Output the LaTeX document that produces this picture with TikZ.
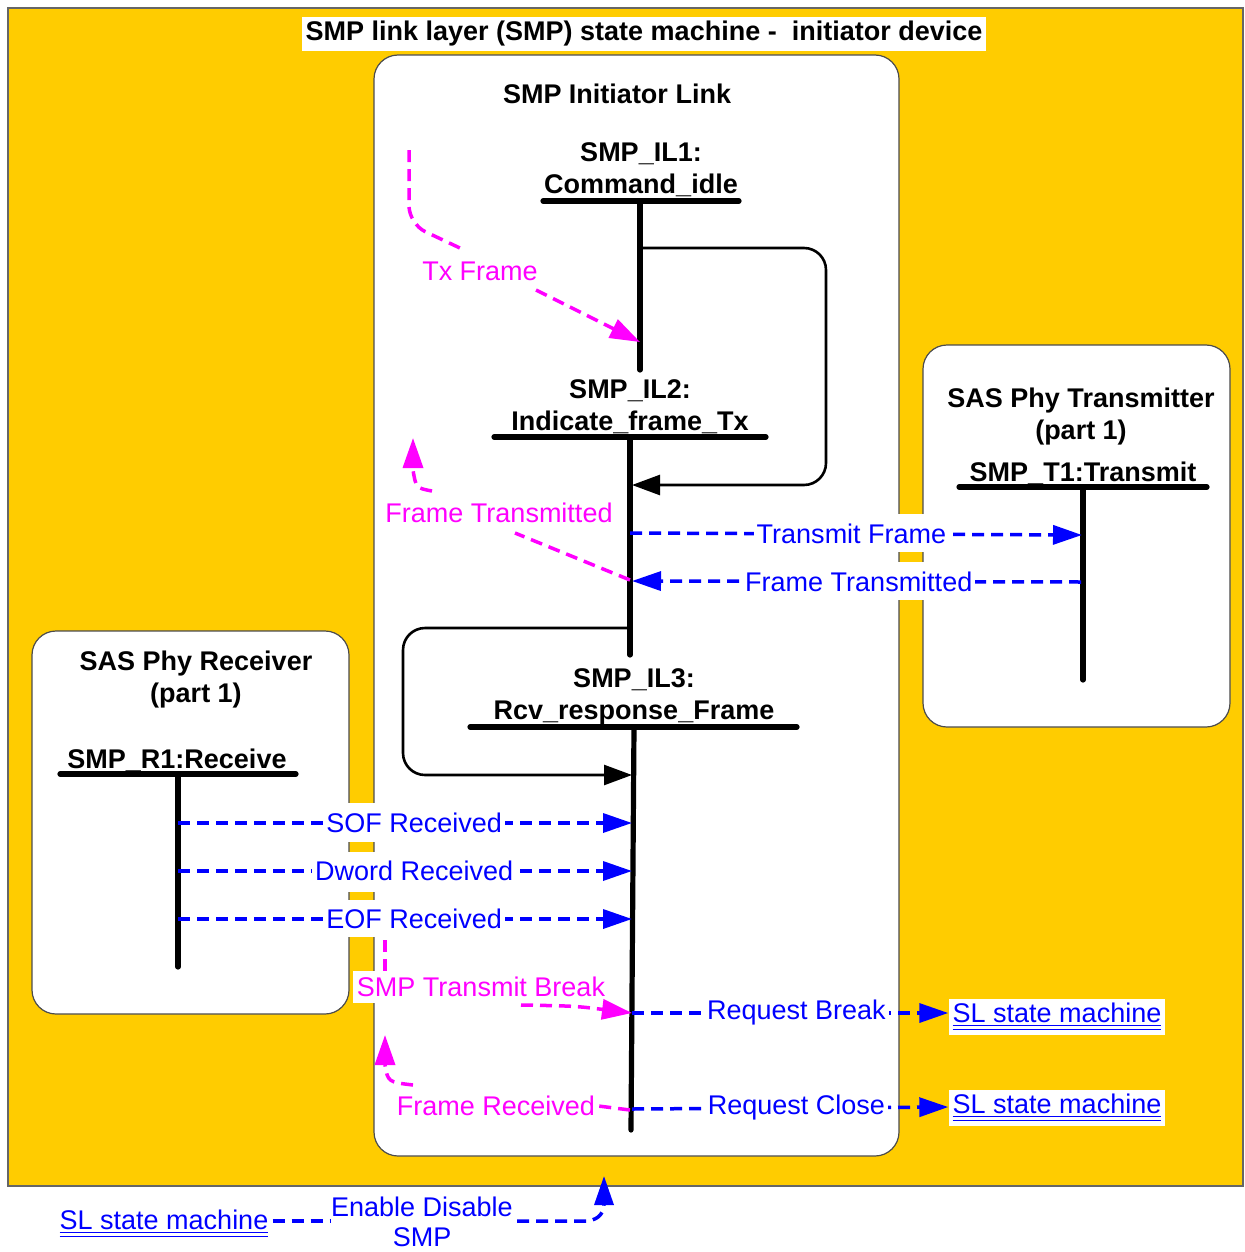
\documentclass[tikz,border=0pt]{standalone}
\usepackage{fontspec}
\setmainfont{Liberation Sans}
\usetikzlibrary{arrows.meta}
\definecolor{bgyellow}{HTML}{FFCC00}
\definecolor{magc}{HTML}{FF00FF}
\definecolor{bluec}{HTML}{0000FF}
\begin{document}
\begin{tikzpicture}[x=0.5pt,y=-0.5pt,
  every node/.style={font=\fontsize{13.5}{16}\selectfont, inner sep=1pt},
  ttl/.style={font=\fontsize{13.5}{16}\selectfont\bfseries, align=center, yshift=-1pt},
  statebar/.style={line width=2.6pt, line cap=round},
  loopline/.style={line width=1.3pt, rounded corners=11pt},
  blktip/.style={-{Triangle[length=14pt,width=10pt]}},
  sig/.style={draw=bluec, line width=1.75pt, dash pattern=on 6pt off 3.5pt},
  bluetip/.style={-{Triangle[length=14.5pt,width=9.5pt]}},
  sigtxt/.style={text=bluec, fill=white, inner sep=1.5pt},
  magsig/.style={draw=magc, line width=1.75pt, dash pattern=on 6pt off 3.5pt},
  magtip/.style={-{Triangle[length=15pt,width=10pt]}},
  magtxt/.style={text=magc, fill=white, inner sep=1.5pt},
  box/.style={draw=black!70, fill=white, rounded corners=12pt, line width=0.6pt},
  link/.style={text=bluec, fill=white, inner sep=2pt},
  band/.style={fill=white}
]
\useasboundingbox (0,0) rectangle (1244,1252);
\fill[white] (0,0) rectangle (1244,1252);
\draw[fill=bgyellow, draw=black!60, line width=0.6pt] (8,8) rectangle (1243,1186);

% title
\node[ttl, fill=white, inner sep=2pt] (title) at (644,32) {SMP link layer (SMP) state machine -\ \ initiator device};

% boxes
\draw[box] (374,55) rectangle (899,1156);
\draw[box] (923,345) rectangle (1230,727);
\draw[box] (32,631) rectangle (349,1014);

% white bands across gaps
\fill[band] (630,514) rectangle (1082,552);
\fill[band] (630,562) rectangle (1082,600);
\fill[band] (178,803) rectangle (632,842);
\fill[band] (178,852) rectangle (632,892);
\fill[band] (178,900) rectangle (632,937);

\node[ttl] (ilname) at (617,92) {SMP Initiator Link};
\node[ttl] (txname) at (1081,415) {SAS Phy Transmitter\\(part 1)};
\node[ttl] (rxname) at (196,678) {SAS Phy Receiver\\(part 1)};

% states
\node[ttl] (il1) at (641,168) {SMP\_IL1:\\Command\_idle};
\node[ttl] (il2) at (630,405) {SMP\_IL2:\\Indicate\_frame\_Tx};
\node[ttl] (il3) at (634,695) {SMP\_IL3:\\Rcv\_response\_Frame};
\node[ttl] (t1) at (1083,471) {SMP\_T1:Transmit};
\node[ttl] (r1) at (177,758) {SMP\_R1:Receive};

\coordinate (il1L) at (543,201); \coordinate (il1R) at (739,201);
\coordinate (il1T) at (640,201); \coordinate (il1B) at (640,370);
\coordinate (il2L) at (494,437); \coordinate (il2R) at (766,437);
\coordinate (il2T) at (630,437); \coordinate (il2B) at (630,655);
\coordinate (il3L) at (470,727); \coordinate (il3R) at (797,727);
\coordinate (il3T) at (634,727); \coordinate (il3B) at (631,1130);
\coordinate (t1L) at (959,487); \coordinate (t1R) at (1207,487);
\coordinate (t1T) at (1083,487); \coordinate (t1B) at (1083,680);
\coordinate (r1L) at (60,774); \coordinate (r1R) at (296,774);
\coordinate (r1T) at (178,774); \coordinate (r1B) at (178,967);

\foreach \a/\b in {il1L/il1R,il1T/il1B,il2L/il2R,il2T/il2B,il3L/il3R,il3T/il3B,t1L/t1R,t1T/t1B,r1L/r1R,r1T/r1B}
  \draw[statebar] (\a) -- (\b);

% loops
\coordinate (lp1s) at (640,248); \coordinate (lp1e) at (632,485);
\draw[loopline, blktip] (lp1s) -- (826,248) -- (826,485) -- (lp1e);
\coordinate (lp2s) at (630,628); \coordinate (lp2e) at (632,775);
\draw[loopline, blktip] (lp2s) -- (403,628) -- (403,775) -- (lp2e);

% blue signals
\coordinate (tfS) at (630,533); \coordinate (tfE) at (1082,535);
\draw[sig, bluetip] (tfS) -- (tfE) node[sigtxt, pos=0.49] (tfl) {Transmit Frame};
\coordinate (ftS) at (1081,582); \coordinate (ftE) at (632,581);
\draw[sig, bluetip] (ftS) -- (ftE) node[sigtxt, pos=0.495] (ftl) {Frame Transmitted};

\coordinate (sofS) at (178,823); \coordinate (sofE) at (632,823);
\draw[sig, bluetip] (sofS) -- (sofE) node[sigtxt, pos=0.52] (sofl) {SOF Received};
\coordinate (dwS) at (178,871); \coordinate (dwE) at (632,871);
\draw[sig, bluetip] (dwS) -- (dwE) node[sigtxt, pos=0.52] (dwl) {Dword Received};
\coordinate (eofS) at (178,919); \coordinate (eofE) at (632,919);
\draw[sig, bluetip] (eofS) -- (eofE) node[sigtxt, pos=0.52] (eofl) {EOF Received};

\node[link] (sl1) at (1057,1017) {\underline{\underline{SL state machine}}};
\node[link] (sl2) at (1057,1108) {\underline{\underline{SL state machine}}};
\coordinate (rbS) at (632,1013);
\draw[sig, bluetip] (rbS) -- (sl1.west |- 0,1013) node[sigtxt, pos=0.52] (rbl) {Request Break};
\coordinate (rcS) at (632,1109);
\draw[sig, bluetip] (rcS) -- (sl2.west |- 0,1107) node[sigtxt, pos=0.52] (rcl) {Request Close};

% bottom
\node[link] (sl3) at (164,1224) {\underline{\underline{SL state machine}}};
\node[sigtxt, align=center, fill=none, font=\fontsize{13.5}{15}\selectfont] (eds) at (422,1222) {Enable Disable\\SMP};
\coordinate (edE) at (604,1176);
\draw[sig] (sl3.east |- 0,1221) -- (330,1221);
\draw[sig, bluetip] (517,1221) -- (588,1221) .. controls (600,1219) and (604,1212) .. (604,1203) -- (edE);

% magenta: Tx Frame
\coordinate (txs) at (409,150);
\draw[magsig, rounded corners=9pt] (txs) -- (409,224) -- (462,249);
\node[magtxt] (txf) at (480,271) {Tx Frame};
\coordinate (txa) at (640,342);
\draw[magsig, magtip] (536,290) -- (txa);

% magenta: Frame Transmitted
\coordinate (mfts) at (630,580);
\draw[magsig] (mfts) -- (515,533);
\node[magtxt] (mft) at (499,513) {Frame Transmitted};
\coordinate (mfte) at (413,438);
\draw[magsig, magtip] (432,491) .. controls (416,488) .. (413,470) -- (mfte);

% magenta: SMP Transmit Break
\draw[magsig] (385,940) -- (385,975);
\node[magtxt, inner xsep=2pt, inner ysep=3pt] (mtb) at (481,987) {SMP Transmit Break};
\coordinate (mtbe) at (632,1013);
\draw[magsig, magtip] (521,1005) .. controls (575,1006) .. (mtbe);

% magenta: Frame Received
\node[magtxt] (mfr) at (496,1106) {Frame Received};
\coordinate (mfrs) at (630,1110);
\draw[magsig] (mfrs) -- (mfr.east);
\coordinate (mfre) at (385,1035);
\draw[magsig, magtip] (413,1085) .. controls (388,1082) .. (385,1065) -- (mfre);
\end{tikzpicture}
\end{document}
